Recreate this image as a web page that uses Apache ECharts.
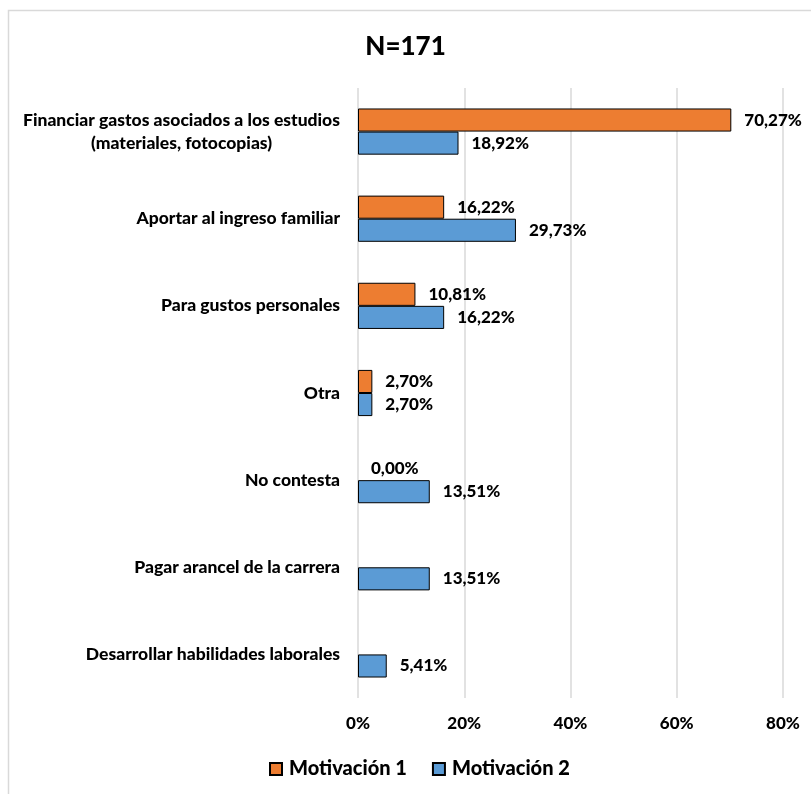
<!DOCTYPE html>
<html>
<head>
<meta charset="utf-8">
<script src="https://cdn.jsdelivr.net/npm/echarts@6/dist/echarts.min.js"></script>
<style>html,body{margin:0;padding:0;background:#fff}#c{width:811px;height:794px}</style>
</head>
<body>
<div id="c"></div>
<script>
const categories = [
  'Financiar gastos asociados a los estudios\n(materiales, fotocopias)',
  'Aportar al ingreso familiar',
  'Para gustos personales',
  'Otra',
  'No contesta',
  'Pagar arancel de la carrera',
  'Desarrollar habilidades laborales'
];
const seriesNames = ['Motivación 1', 'Motivación 2'];
const motivacion1 = [70.27, 16.22, 10.81, 2.70, 0.00, null, null];
const motivacion2 = [18.92, 29.73, 16.22, 2.70, 13.51, 13.51, 5.41];
const xTicks = [0, 20, 40, 60, 80];

const FONT = 'Lato';
const W = 900;
const CAT_FS = 17.5;
const ctx = document.createElement('canvas').getContext('2d');
ctx.font = W + ' ' + CAT_FS + 'px ' + FONT;
function catFormatter(v) {
  const lines = v.split('\n');
  if (lines.length === 1) return v;
  return lines.map(l => '{c|' + l + '}').join('\n');
}
function catRich() {
  let w = 0;
  categories.forEach(v => {
    const lines = v.split('\n');
    if (lines.length > 1) lines.forEach(l => { w = Math.max(w, ctx.measureText(l).width); });
  });
  return { c: { width: Math.ceil(w), align: 'center', fontFamily: FONT, fontWeight: W, fontSize: CAT_FS, color: '#000', lineHeight: 23 } };
}
const fmtPct = p => p.value == null ? '' : p.value.toFixed(2).replace('.', ',') + '%';
const toItems = arr => arr.map(v => v === 0 ? { value: v, itemStyle: { borderWidth: 0 } } : v);

const labelStyle = { show: true, position: 'right', distance: 13, formatter: fmtPct,
  fontFamily: FONT, fontWeight: W, fontSize: 17, color: '#000' };

const chart = echarts.init(document.getElementById('c'), null, { renderer: 'canvas' });
chart.setOption({
  animation: false,
  backgroundColor: '#fff',
  graphic: [{
    type: 'rect', shape: { x: 8.5, y: 10.5, width: 820, height: 800 },
    style: { fill: 'none', stroke: '#d9d9d9', lineWidth: 1.5 }, silent: true, z: -10
  }],
  title: {
    text: 'N=171', left: 'center', top: 29,
    textStyle: { fontFamily: FONT, fontWeight: W, fontSize: 26, color: '#000' }
  },
  legend: {
    data: seriesNames, bottom: 10, left: 264,
    itemWidth: 12, itemHeight: 12, itemGap: 25,
    icon: 'rect',
    textStyle: { fontFamily: FONT, fontWeight: W, fontSize: 20, color: '#000', padding: [0, 0, 0, 2] }
  },
  grid: { left: 358, right: 28, top: 88, bottom: 96, containLabel: false },
  xAxis: {
    type: 'value', min: 0, max: 80, interval: 20,
    axisLine: { show: false }, axisTick: { show: false },
    splitLine: { lineStyle: { color: '#d9d9d9', width: 1.5 } },
    axisLabel: {
      margin: 17, fontFamily: FONT, fontWeight: W, fontSize: 17, color: '#000',
      formatter: v => xTicks.includes(v) ? v + '%' : ''
    }
  },
  yAxis: {
    type: 'category', data: categories, inverse: true,
    axisLine: { show: false }, axisTick: { show: false },
    axisLabel: {
      margin: 18, fontFamily: FONT, fontWeight: W, fontSize: CAT_FS, color: '#000',
      lineHeight: 23, formatter: catFormatter, rich: catRich()
    }
  },
  series: [
    {
      name: seriesNames[0], type: 'bar', data: toItems(motivacion1),
      barGap: '0%', barCategoryGap: '47%',
      itemStyle: { color: '#ED7D31', borderColor: '#000', borderWidth: 1 },
      label: labelStyle
    },
    {
      name: seriesNames[1], type: 'bar', data: toItems(motivacion2),
      barGap: '0%', barCategoryGap: '47%',
      itemStyle: { color: '#5B9BD5', borderColor: '#000', borderWidth: 1 },
      label: labelStyle
    }
  ]
});
</script>
</body>
</html>
